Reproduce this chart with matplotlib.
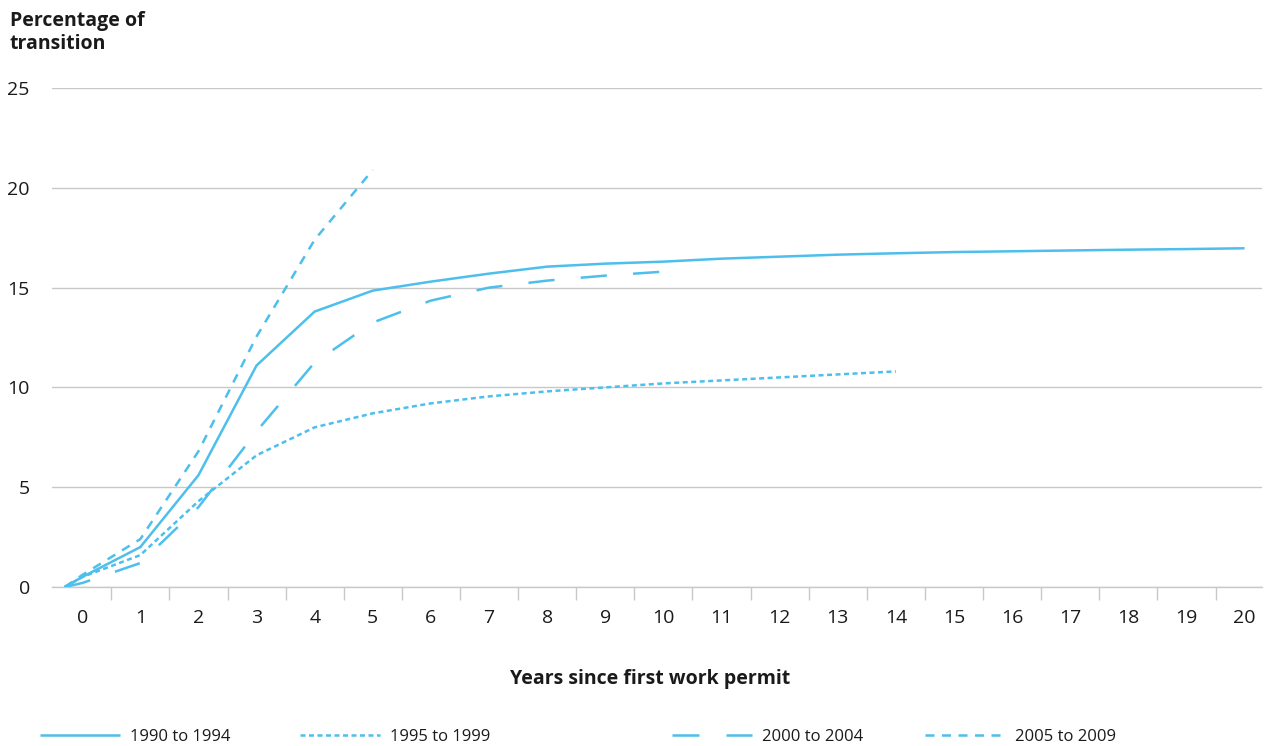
import matplotlib
matplotlib.use('Agg')
import matplotlib.pyplot as plt
from matplotlib.lines import Line2D

plt.rcParams['font.family'] = ['Open Sans', 'DejaVu Sans']

# data
x_start = -0.3          # curves begin slightly left of year 0
years = list(range(0, 21))
s1990 = [0, 0.5, 2.0, 5.6, 11.1, 13.8, 14.85, 15.3, 15.7, 16.05, 16.2, 16.3,
         16.45, 16.55, 16.65, 16.72, 16.78, 16.82, 16.86, 16.9, 16.93, 16.97]
s1995 = [0, 0.5, 1.6, 4.3, 6.6, 8.0, 8.7, 9.2, 9.55, 9.8, 10.0, 10.2,
         10.35, 10.5, 10.65, 10.8]
s2000 = [0, 0.2, 1.2, 4.0, 7.8, 11.25, 13.25, 14.35, 15.0, 15.35, 15.6, 15.8]
s2005 = [0, 0.6, 2.4, 6.8, 12.55, 17.4, 20.9]
labels = ['1990 to 1994', '1995 to 1999', '2000 to 2004', '2005 to 2009']
yticks = [0, 5, 10, 15, 20, 25]

blue = '#4dbfec'
grey = '#c8c8c8'
txt = '#1a1a1a'
lw = 1.8
styles = ['-', (0, (2.0, 1.4)), (0, (10.5, 10.5)), (0, (3.6, 3.2))]
leg_styles = ['-', (0, (2.0, 1.4)), (0, (10.8, 10.8)), (0, (3.6, 3.0))]

fig = plt.figure(figsize=(12.66, 7.46), dpi=100)
ax = fig.add_axes([52 / 1266, 1 - 587 / 746, 1210 / 1266, 499 / 746])

series = [s1990, s1995, s2000, s2005]
for vals, ls, lab in zip(series, styles, labels):
    xs = [x_start] + years[:len(vals) - 1]
    ax.plot(xs, vals, color=blue, lw=lw, linestyle=ls, label=lab,
            solid_capstyle='butt', dash_capstyle='butt', zorder=3)

ax.set_xlim(-0.52, 20.3)
ax.set_ylim(0, 25)

# grid + axes
ax.set_yticks(yticks)
ax.yaxis.grid(True, color=grey, lw=1)
ax.set_axisbelow(True)
for s in ['top', 'right', 'left']:
    ax.spines[s].set_visible(False)
ax.spines['bottom'].set_color(grey)
ax.spines['bottom'].set_linewidth(1)
ax.tick_params(axis='y', length=0, pad=16, labelsize=14, labelcolor=txt)

# category boundaries as ticks, year labels in the middle
ax.set_xticks([y + 0.5 for y in years[:-1]])
ax.set_xticklabels([])
ax.tick_params(axis='x', which='major', length=9.5, width=1, color=grey)
ax.set_xticks(years, minor=True)
ax.set_xticklabels([str(y) for y in years], minor=True)
ax.tick_params(axis='x', which='minor', length=0, pad=16, labelsize=14,
               labelcolor=txt)

fig.text(10 / 1266, 1 - 11 / 746, 'Percentage of\ntransition', ha='left', va='top',
         fontsize=14, fontweight='bold', color=txt, linespacing=1.2)
fig.text(650 / 1266, 1 - 679 / 746, 'Years since first work permit', ha='center',
         va='center', fontsize=14, fontweight='bold', color=txt)

# legend entries laid out along the bottom
leg_x = [40, 300, 672, 925]
for ls, lab, lx in zip(leg_styles, labels, leg_x):
    proxy = Line2D([], [], color=blue, lw=lw, linestyle=ls,
                   dash_capstyle='butt', solid_capstyle='butt')
    fig.legend([proxy], [lab], loc='center left',
               bbox_to_anchor=(lx / 1266, 1 - 737 / 746), frameon=False,
               borderaxespad=0, borderpad=0, handlelength=4.8,
               handletextpad=0.6, fontsize=12, labelcolor=txt)

fig.savefig('out.png', dpi=100)
